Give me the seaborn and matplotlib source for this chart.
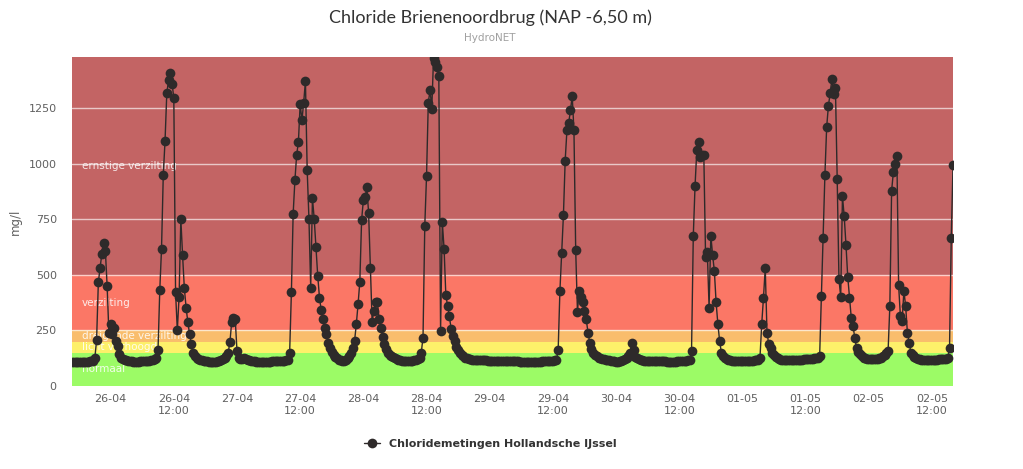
import numpy as np
import pandas as pd
import matplotlib
matplotlib.use("Agg")
import matplotlib.pyplot as plt
import matplotlib.transforms as mtransforms
import seaborn as sns

# ---------------------------------------------------------
# Gegevens (meetreeks, elke 20 minuten)
# ---------------------------------------------------------
START = "2016-04-25 16:40"
STAP = "20min"

chloride = [
    108,
    # 25-04 17:00
    108, 107, 108, 108, 109, 108, 109, 110, 110, 111, 112, 114,
    # 25-04 21:00
    125, 207, 466, 533, 594, 641, 609, 451, 240, 279, 234, 263,
    # 26-04 01:00
    203, 180, 144, 128, 122, 118, 115, 113, 112, 111, 110, 110,
    110, 110, 111, 111, 112, 112, 113, 114, 116, 118, 122, 125,
    160, 430, 617, 950, 1102, 1316, 1376, 1406, 1360, 1297, 421, 250,
    401, 752, 587, 440, 353, 286, 233, 188, 150, 135, 128, 122,
    118, 115, 113, 112, 111, 110, 110, 109, 110, 110, 111, 112,
    118, 122, 128, 135, 150, 200, 290, 308, 300, 158, 125, 120,
    # 27-04 01:00
    122, 128, 122, 118, 115, 113, 112, 111, 110, 110, 110, 109,
    109, 110, 110, 110, 110, 111, 111, 111, 112, 112, 113, 113,
    114, 115, 115, 149, 421, 774, 925, 1040, 1098, 1270, 1195, 1275,
    1372, 970, 752, 443, 845, 752, 626, 496, 398, 340, 300, 260,
    233, 195, 173, 155, 140, 130, 124, 118, 115, 113, 114, 118,
    125, 135, 150, 170, 203, 279, 369, 470, 746, 835, 850, 893,
    # 28-04 01:00
    778, 533, 290, 338, 376, 376, 301, 263, 220, 188, 165, 150,
    140, 135, 130, 125, 120, 117, 115, 113, 112, 112, 111, 111,
    112, 113, 115, 118, 122, 128, 150, 218, 719, 944, 1274, 1331,
    1248, 1476, 1456, 1434, 1396, 248, 736, 618, 408, 360, 315, 257,
    225, 203, 175, 160, 150, 140, 133, 128, 125, 122, 120, 119,
    118, 117, 117, 116, 116, 115, 115, 115, 114, 114, 114, 113,
    # 29-04 01:00
    113, 113, 113, 112, 112, 112, 112, 112, 111, 111, 111, 111,
    111, 111, 110, 110, 110, 110, 110, 110, 110, 110, 110, 110,
    110, 110, 110, 111, 111, 111, 112, 112, 113, 114, 115, 118,
    160, 428, 600, 767, 1014, 1150, 1182, 1240, 1304, 1150, 610, 335,
    428, 400, 376, 338, 301, 240, 195, 165, 150, 140, 133, 128,
    125, 122, 120, 118, 116, 115, 113, 112, 111, 110, 110, 111,
    # 30-04 01:00
    113, 116, 120, 126, 135, 150, 195, 160, 132, 125, 120, 117,
    115, 114, 113, 113, 112, 112, 112, 112, 111, 111, 111, 111,
    111, 111, 110, 110, 110, 110, 110, 110, 111, 111, 112, 113,
    113, 114, 116, 118, 158, 674, 900, 1060, 1098, 1030, 1038, 1041,
    579, 601, 353, 676, 590, 518, 376, 279, 203, 150, 135, 125,
    120, 117, 115, 114, 113, 113, 112, 112, 112, 112, 112, 112,
    # 01-05 01:00
    113, 113, 113, 114, 115, 116, 118, 128, 279, 398, 530, 240,
    188, 173, 150, 140, 130, 124, 120, 118, 117, 116, 116, 116,
    117, 117, 117, 118, 118, 118, 119, 119, 120, 120, 121, 122,
    122, 123, 124, 125, 125, 135, 405, 665, 950, 1165, 1261, 1317,
    1381, 1314, 1340, 931, 481, 401, 853, 763, 635, 492, 398, 308,
    270, 218, 173, 155, 143, 135, 128, 124, 121, 120, 120, 120,
    # 02-05 01:00
    120, 121, 122, 124, 127, 135, 140, 150, 158, 360, 878, 961,
    998, 1036, 453, 315, 293, 428, 360, 240, 195, 150, 138, 130,
    125, 122, 120, 119, 118, 118, 118, 118, 118, 118, 119, 119,
    119, 120, 120, 120, 121, 122, 125, 170, 667, 995,
]

band_grenzen = [0, 150, 200, 250, 500, 1480]
band_namen = ["normaal", "licht verhoogd", "dreigende verzilting",
              "verzilting", "ernstige verzilting"]
band_kleuren = ["#9cfb66", "#fdf06a", "#f9bd6c", "#fb7766", "#c36464"]

y_ticks = [0, 250, 500, 750, 1000, 1250]
x_tick_start = "2016-04-26 00:00"
x_tick_eind = "2016-05-02 12:00"

df = pd.DataFrame({
    "tijd": pd.date_range(START, periods=len(chloride), freq=STAP),
    "chloride": chloride,
})

# ---------------------------------------------------------
# Figuur
# ---------------------------------------------------------
sns.set_theme(style="white")
plt.rcParams["font.family"] = ["DejaVu Sans"]

fig = plt.figure(figsize=(10.23, 4.69), dpi=100)
ax = fig.add_axes([0.0704, 0.177, 0.8612, 0.7015])

for lo, hi, kleur, naam in zip(band_grenzen[:-1], band_grenzen[1:],
                               band_kleuren, band_namen):
    ax.axhspan(lo, hi, color=kleur, lw=0, zorder=0)
    trans = mtransforms.blended_transform_factory(ax.transAxes, ax.transData)
    ax.text(0.011, (lo + hi) / 2, naam, transform=trans, color="white",
            alpha=0.85, fontsize=7.5, va="center", ha="left", zorder=1)

for yt in y_ticks[1:]:
    ax.axhline(yt, color="white", alpha=0.65, lw=1, zorder=0.5)

sns.lineplot(data=df, x="tijd", y="chloride", ax=ax, color="#2e2a2a",
             linewidth=1, marker="o", markersize=7, markeredgewidth=0,
             label="Chloridemetingen Hollandsche IJssel", zorder=3)

ax.set_xlim(df["tijd"].iloc[0], df["tijd"].iloc[-1])
ax.set_ylim(band_grenzen[0], band_grenzen[-1])

ticks = pd.date_range(x_tick_start, x_tick_eind, freq="12h")
labels = [t.strftime("%d-%m") if t.hour == 0 else t.strftime("%d-%m\n%H:%M")
          for t in ticks]
ax.set_xticks(ticks)
ax.set_xticklabels(labels, color="#606060", fontsize=8, linespacing=1.25)
ax.set_yticks(y_ticks)
ax.set_yticklabels([str(v) for v in y_ticks], color="#606060", fontsize=8)
ax.tick_params(axis="x", length=0, pad=6)
ax.tick_params(axis="y", length=0, pad=11)

ax.set_xlabel("")
ax.set_ylabel("mg/l", color="#606060", fontsize=8.5, labelpad=5)
for s in ax.spines.values():
    s.set_visible(False)

fig.text(0.479, 0.963, "Chloride Brienenoordbrug (NAP -6,50 m)",
         ha="center", va="center", fontsize=13, color="#333333",
         family=["Lato", "DejaVu Sans"])
fig.text(0.479, 0.919, "HydroNET", ha="center", va="center",
         fontsize=7.5, color="#a0a0a0")

leg = ax.legend(loc="center", bbox_to_anchor=(0.475, -0.175), frameon=False,
                handlelength=1.4, fontsize=8, borderaxespad=0)
for t in leg.get_texts():
    t.set_fontweight("bold")
    t.set_color("#333333")

fig.savefig("out.png", dpi=100)
